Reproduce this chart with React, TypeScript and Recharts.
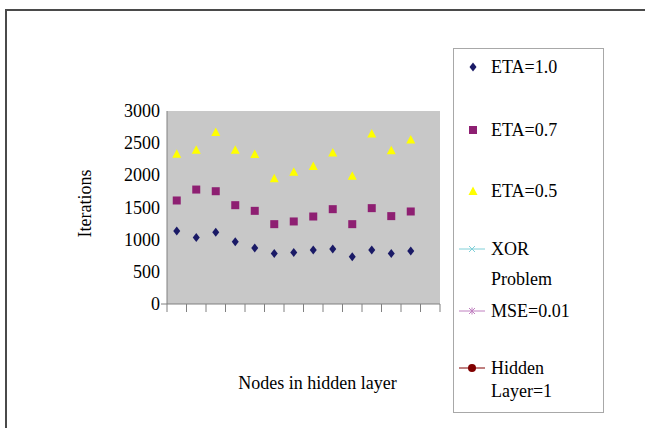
import React from 'react';
import { ComposedChart, Scatter, Line, XAxis, YAxis, CartesianGrid, Legend } from 'recharts';

// 14 slots on the x axis, the last one has no measurements
const nodes = ['1', '2', '3', '4', '5', '6', '7', '8', '9', '10', '11', '12', '13', '14'];
const eta10 = [1133, 1034, 1117, 967, 869, 786, 802, 838, 853, 734, 838, 786, 822, null];
const eta07 = [1609, 1779, 1753, 1536, 1448, 1241, 1283, 1360, 1474, 1241, 1490, 1366, 1438, null];
const eta05 = [2328, 2390, 2664, 2390, 2322, 1945, 2048, 2136, 2348, 1986, 2643, 2384, 2550, null];
const yTicks = [0, 500, 1000, 1500, 2000, 2500, 3000];

const data = nodes.map((n, i) => ({ n, eta10: eta10[i], eta07: eta07[i], eta05: eta05[i] }));

const FONT = 'Liberation Serif';
const W = 645;
const H = 428;
const MARGIN = { top: 111, right: 205, bottom: 34, left: 0 };
const STEP = (W - 167 - MARGIN.right) / nodes.length;

const ok = (v: any) => typeof v === 'number' && !isNaN(v);

const Diamond = ({ cx, cy, payload }: any) => {
  if (!ok(cx) || !ok(cy) || payload?.eta10 == null) return null;
  return <path d={`M${cx},${cy - 4.5} L${cx + 3.5},${cy} L${cx},${cy + 4.5} L${cx - 3.5},${cy} Z`} fill="#1a1a66" />;
};

const Square = ({ cx, cy, payload }: any) => {
  if (!ok(cx) || !ok(cy) || payload?.eta07 == null) return null;
  return <rect x={cx - 4} y={cy - 4} width={8} height={8} fill="#8e1f72" />;
};

const Triangle = ({ cx, cy, payload }: any) => {
  if (!ok(cx) || !ok(cy) || payload?.eta05 == null) return null;
  return <path d={`M${cx},${cy - 5} L${cx + 4.5},${cy + 3.5} L${cx - 4.5},${cy + 3.5} Z`} fill="#ffff00" />;
};

const XTick = ({ x, y, index }: any) => {
  const left = x - STEP / 2;
  return (
    <g>
      <line x1={left} y1={y} x2={left} y2={y + 8} stroke="#808080" />
      {index === nodes.length - 1 && <line x1={x + STEP / 2} y1={y} x2={x + STEP / 2} y2={y + 8} stroke="#808080" />}
    </g>
  );
};

// only the zero line pokes out left of the value axis
const YTick = ({ x, y, payload }: any) => (
  <g>
    {payload.value === 0 && <line x1={x + 1} y1={y} x2={x + 7} y2={y} stroke="#808080" />}
    <text x={x} y={y} textAnchor="end" dominantBaseline="central" fontFamily={FONT} fontSize={18} fill="#000">
      {payload.value}
    </text>
  </g>
);

// legend entry layout: top of first line and the gap to a second line
const legendLayout: Record<string, { top: number; gap: number }> = {
  'ETA=1.0': { top: 18, gap: 0 },
  'ETA=0.7': { top: 81, gap: 0 },
  'ETA=0.5': { top: 142, gap: 0 },
  'XOR Problem': { top: 200, gap: 30 },
  'MSE=0.01': { top: 262, gap: 0 },
  'Hidden Layer=1': { top: 319, gap: 23 },
};

const LegendMarker = ({ name, color }: { name: string; color: string }) => {
  if (name === 'ETA=1.0')
    return <svg width={10} height={10} style={{ position: 'absolute', left: 14, top: -5 }}><path d="M5,0.5 L8.5,5 L5,9.5 L1.5,5 Z" fill={color} /></svg>;
  if (name === 'ETA=0.7')
    return <svg width={10} height={10} style={{ position: 'absolute', left: 14, top: -5 }}><rect x={1} y={1} width={8} height={8} fill={color} /></svg>;
  if (name === 'ETA=0.5')
    return <svg width={10} height={10} style={{ position: 'absolute', left: 14, top: -5 }}><path d="M5,0.5 L9.5,9 L0.5,9 Z" fill={color} /></svg>;
  return (
    <svg width={28} height={12} style={{ position: 'absolute', left: 4, top: -6 }}>
      <line x1={1} y1={6} x2={27} y2={6} stroke={color} strokeWidth={1} />
      {name === 'XOR Problem' && (
        <g stroke={color} strokeWidth={1}>
          <line x1={11} y1={3} x2={17} y2={9} />
          <line x1={17} y1={3} x2={11} y2={9} />
        </g>
      )}
      {name === 'MSE=0.01' && (
        <g stroke={color} strokeWidth={1}>
          <line x1={11} y1={3} x2={17} y2={9} />
          <line x1={17} y1={3} x2={11} y2={9} />
          <line x1={14} y1={2.5} x2={14} y2={9.5} />
        </g>
      )}
      {name === 'Hidden Layer=1' && <circle cx={14} cy={6} r={4} fill={color} />}
    </svg>
  );
};

const renderLegend = ({ payload }: any) => (
  <div style={{ position: 'relative', width: 151, height: 365, border: '1px solid #a8a8a8', boxSizing: 'border-box', background: '#fff', fontFamily: FONT, fontSize: 18, color: '#000' }}>
    {(payload || []).map((p: any) => {
      const name = p.value;
      const lay = legendLayout[name];
      if (!lay) return null;
      const lines = lay.gap ? name.split(' ') : [name];
      return (
        <div key={name} style={{ position: 'absolute', left: 0, top: lay.top, width: '100%' }}>
          <LegendMarker name={name} color={p.color} />
          {lines.map((t: string, i: number) => (
            <div key={t} style={{ position: 'absolute', left: 37, top: i * lay.gap - 11, lineHeight: '22px', whiteSpace: 'nowrap' }}>{t}</div>
          ))}
        </div>
      );
    })}
  </div>
);

export default function App() {
  return (
    <div style={{ position: 'absolute', left: 0, top: 0, width: W, height: H, background: '#fff', fontFamily: FONT }}>
      <div style={{ position: 'absolute', left: 5, top: 9, width: W, height: H, borderTop: '2px solid #4a4a4a', borderLeft: '2px solid #4a4a4a' }} />
      <ComposedChart width={W} height={H} data={data} margin={MARGIN} style={{ position: 'absolute', left: 0, top: 0 }}>
        <CartesianGrid fill="#c8c8c8" horizontal={false} vertical={false} />
        <XAxis
          dataKey="n"
          scale="band"
          height={90}
          stroke="#808080"
          tickSize={0}
          tickMargin={0}
          interval={0}
          tick={<XTick />}
          label={{
            content: ({ viewBox }: any) => (
              <text x={viewBox.x + viewBox.width / 2 + 14} y={viewBox.y + 79} textAnchor="middle" dominantBaseline="central" fontFamily={FONT} fontSize={18} fill="#000">
                Nodes in hidden layer
              </text>
            ),
          }}
        />
        <YAxis
          width={167}
          domain={[0, 3000]}
          ticks={yTicks}
          interval={0}
          stroke="#808080"
          tickLine={false}
          tickSize={0}
          tickMargin={7}
          tick={<YTick />}
          label={{
            content: ({ viewBox }: any) => (
              <text x={85} y={viewBox.y + viewBox.height / 2 - 4} textAnchor="middle" dominantBaseline="central" transform={`rotate(-90 85 ${viewBox.y + viewBox.height / 2 - 4})`} fontFamily={FONT} fontSize={18} fill="#000">
                Iterations
              </text>
            ),
          }}
        />
        <Legend
          layout="horizontal"
          align="center"
          verticalAlign="middle"
          content={renderLegend}
          wrapperStyle={{ position: 'absolute', left: 453, top: 48, width: 151, height: 365 }}
        />
        <Scatter dataKey="eta10" name="ETA=1.0" fill="#1a1a66" shape={<Diamond />} isAnimationActive={false} />
        <Scatter dataKey="eta07" name="ETA=0.7" fill="#8e1f72" shape={<Square />} isAnimationActive={false} />
        <Scatter dataKey="eta05" name="ETA=0.5" fill="#ffff00" shape={<Triangle />} isAnimationActive={false} />
        <Line dataKey="xor" name="XOR Problem" stroke="#80d0d8" dot={false} isAnimationActive={false} />
        <Line dataKey="mse" name="MSE=0.01" stroke="#c080c0" dot={false} isAnimationActive={false} />
        <Line dataKey="hidden" name="Hidden Layer=1" stroke="#800000" dot={false} isAnimationActive={false} />
      </ComposedChart>
    </div>
  );
}
